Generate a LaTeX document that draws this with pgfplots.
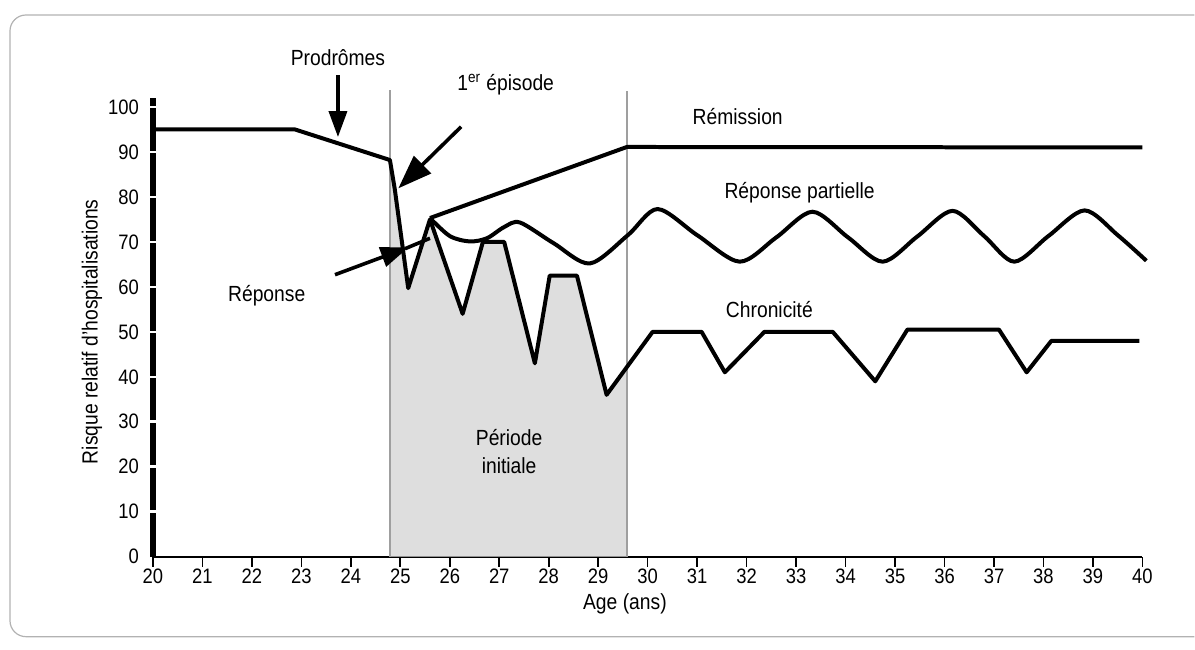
\documentclass[border=0pt]{standalone}
\usepackage{fontspec}
\setmainfont{Liberation Sans}[FakeStretch=0.88]
\usepackage{pgfplots}
\pgfplotsset{compat=1.18}
\usetikzlibrary{arrows.meta}
\begin{document}
\begin{tikzpicture}
\begin{axis}[
  at={(0,0)}, anchor=south west,
  scale only axis, width=495bp, height=229.5bp,
  xmin=20, xmax=40, ymin=0, ymax=102,
  clip=false,
  axis lines=left,
  x axis line style={-, line width=1bp},
  y axis line style={-, line width=3bp},
  xtick={20,...,40},
  ytick={0,10,...,100},
  tick align=center,
  major tick length=5bp,
  x tick style={black, line width=0.8bp, yshift=-2.5bp},
  y tick style={draw=none},
  /pgf/number format/assume math mode=true,
  ticklabel style={font=\fontsize{10.5}{12}\selectfont},
  yticklabel style={xshift=-1bp},
]
% shaded initial period
\addplot[fill=black!13, draw=none] coordinates {
  (24.79,0) (24.79,88.2) (24.89,81.6) (25.16,59.7) (25.6,75) (26.26,54)
  (26.67,70) (27.1,70) (27.72,43) (28.02,62.5) (28.57,62.5) (29.17,36)
  (29.58,42.4) (29.58,0)};
% vertical separators
\addplot[gray!75, line width=0.9bp] coordinates {(24.79,0) (24.79,103.8)};
\addplot[gray!75, line width=0.9bp] coordinates {(29.58,0) (29.58,103.5)};
% common + chronicity
\addplot[black, line width=2bp, line join=round] coordinates {
  (20,95) (22.87,95) (24.79,88.2) (24.89,81.6) (25.16,59.7) (25.6,75)
  (26.26,54) (26.67,70) (27.1,70) (27.72,43) (28.02,62.5) (28.57,62.5)
  (29.17,36) (30.1,50) (31.09,50) (31.56,41) (32.36,50) (33.74,50)
  (34.6,39) (35.25,50.5) (37.1,50.5) (37.66,41) (38.16,48) (39.94,48)};
% remission
\addplot[black, line width=2bp, line join=round] coordinates {
  (25.6,75.3) (29.58,91.1) (40.0,91)};
% partial response
\addplot[black, line width=2bp, smooth, tension=0.5] coordinates {
  (25.6,75.3) (26.0,71.3) (26.4,70.1) (26.75,70.8) (27.1,73.3) (27.42,74.3)
  (28.1,69.7) (28.83,65.2) (29.6,71.5) (30.2,77.3) (31.0,71.5) (31.86,65.6)
  (32.6,71) (33.33,76.7) (34.05,71) (34.75,65.6) (35.45,71.2) (36.16,76.9)
  (36.8,71.3) (37.41,65.6) (38.1,71.3) (38.83,77) (39.5,71.5) (40.08,65.8)};
% annotations
\draw[line width=1.8bp, -{Triangle[length=13bp,width=9bp]}] (axis cs:23.74,107) -- (axis cs:23.74,93.3);
\draw[line width=1.8bp, -{Triangle[length=17bp,width=12bp]}] (axis cs:26.23,95.6) -- (axis cs:24.96,81.9);
\draw[line width=1.8bp, -{Triangle[length=14bp,width=10bp]}] (axis cs:23.68,62.7) -- (axis cs:25.17,68.8);
\draw[line width=1.8bp] (axis cs:25.1,68.5) -- (axis cs:25.6,70.8);
\begin{scope}[font=\fontsize{11}{13}\selectfont]
\node at (axis cs:23.74,110.9) {Prodrômes};
\node at (axis cs:27.13,104.9) {1\textsuperscript{er} épisode};
\node at (axis cs:22.3,58) {Réponse};
\node at (axis cs:31.82,97.8) {Rémission};
\node at (axis cs:33.07,80.9) {Réponse partielle};
\node at (axis cs:32.46,54.9) {Chronicité};
\node[align=center, inner sep=0pt] at (axis cs:27.2,23.3) {Période\\[1pt]initiale};
\node[rotate=90] at (axis cs:18.77,50) {Risque relatif d'hospitalisations};
\node at (axis cs:29.54,-10.4) {Age (ans)};
\end{scope}
\end{axis}
% white breaks across the thick y axis at each tick
\foreach \v in {10,20,...,100} {
  \draw[white, line width=1.3bp] (-3bp,\v*2.25bp) -- (3bp,\v*2.25bp);
}
\draw[gray!60, line width=0.6bp, rounded corners=8bp] (521bp,271bp) -- (-71.5bp,271bp) -- (-71.5bp,-40bp) -- (521bp,-40bp);
\path[use as bounding box] (-76.5bp,-46.5bp) rectangle (521bp,278.5bp);
\end{tikzpicture}
\end{document}
